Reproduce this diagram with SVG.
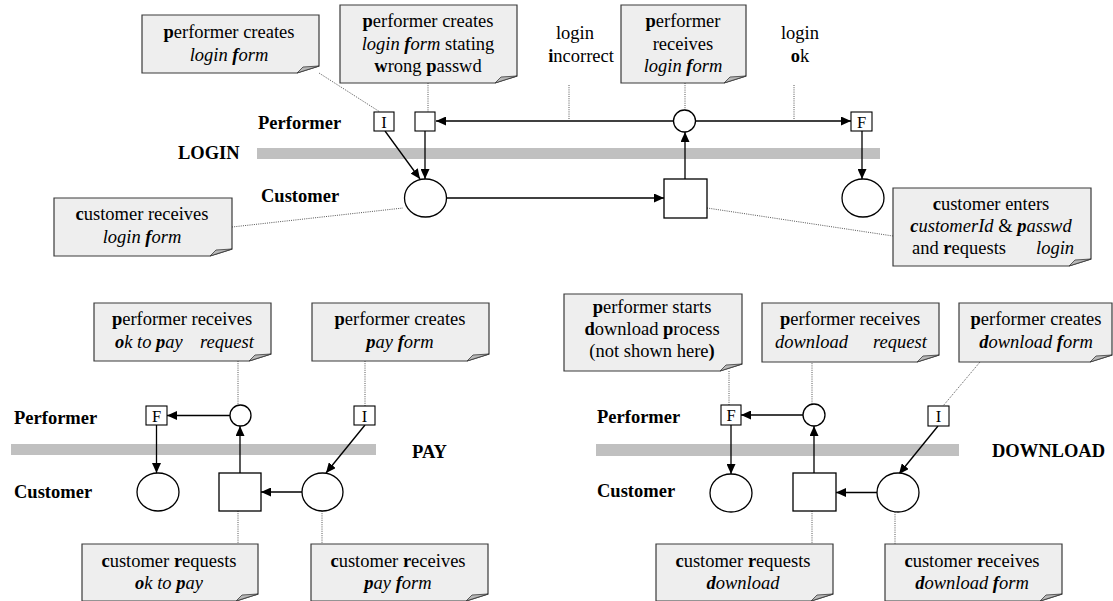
<svg xmlns="http://www.w3.org/2000/svg" width="1113" height="601" viewBox="0 0 1113 601" font-family="'Liberation Serif', 'Times New Roman', 'DejaVu Serif', serif">
<defs>
<marker id="ah" markerUnits="userSpaceOnUse" markerWidth="11" markerHeight="9" refX="10" refY="4.5" orient="auto">
<path d="M0,0 L10,4.5 L0,9 z" fill="#000"/>
</marker>
<style>
text{font-family:'Liberation Serif','Times New Roman','DejaVu Serif',serif;font-size:18.5px;fill:#000}
.t{text-anchor:middle}
.lbl{font-weight:bold;font-size:18.5px}
.b{font-weight:bold}
.i{font-style:italic}
.note{fill:#eeeeee;stroke:#3a3a3a;stroke-width:1.2}
.flap{fill:#b8b8b8;stroke:#3a3a3a;stroke-width:0.8}
.bar{fill:#c0c0c0}
.node{fill:#fff;stroke:#000;stroke-width:1.3}
.box{fill:#fff;stroke:#000;stroke-width:1.1}
.bl{font-size:16.5px;text-anchor:middle}
.arr{stroke:#000;stroke-width:1.3;fill:none;marker-end:url(#ah)}
.dot{stroke:#555;stroke-width:1;stroke-dasharray:1 1.2;fill:none}
</style>
</defs>
<rect width="1113" height="601" fill="#fff"/>

<!-- swimlane bars and labels -->
<g id="lanes">
<rect class="bar" x="257" y="148" width="623" height="11"/>
<rect class="bar" x="11" y="444" width="365" height="11"/>
<rect class="bar" x="596" y="444" width="363" height="12"/>
<text class="lbl" x="258" y="129">Performer</text>
<text class="lbl" x="178" y="159">LOGIN</text>
<text class="lbl" x="261" y="202">Customer</text>
<text class="lbl" x="14" y="424">Performer</text>
<text class="lbl" x="412" y="458">PAY</text>
<text class="lbl" x="14" y="498">Customer</text>
<text class="lbl" x="597" y="423">Performer</text>
<text class="lbl" x="992" y="457">DOWNLOAD</text>
<text class="lbl" x="597" y="497">Customer</text>
</g>

<!-- connectors -->
<g id="connectors">
<!-- LOGIN -->
<line class="arr" x1="673" y1="121" x2="436" y2="121"/>
<line class="arr" x1="696" y1="121" x2="851" y2="121"/>
<line class="arr" x1="385" y1="131" x2="420" y2="179"/>
<line class="arr" x1="425" y1="131" x2="425" y2="179"/>
<line class="arr" x1="447" y1="198" x2="664" y2="198"/>
<line class="arr" x1="685" y1="179" x2="685" y2="132"/>
<line class="arr" x1="862" y1="131" x2="862" y2="179"/>
<line class="dot" x1="319" y1="73" x2="380" y2="112"/>
<line class="dot" x1="428" y1="83" x2="428" y2="112"/>
<line class="dot" x1="569" y1="85" x2="569" y2="120"/>
<line class="dot" x1="685" y1="83" x2="685" y2="110"/>
<line class="dot" x1="794" y1="85" x2="794" y2="120"/>
<line class="dot" x1="232" y1="227" x2="403" y2="208"/>
<line class="dot" x1="707" y1="208" x2="893" y2="236"/>
<!-- PAY -->
<line class="arr" x1="230" y1="415.5" x2="167" y2="415.5"/>
<line class="arr" x1="156.5" y1="425" x2="156.5" y2="473"/>
<line class="arr" x1="240" y1="473" x2="240" y2="426"/>
<line class="arr" x1="302" y1="492" x2="261" y2="492"/>
<line class="arr" x1="365" y1="425" x2="326" y2="473"/>
<line class="dot" x1="238" y1="361" x2="238" y2="405"/>
<line class="dot" x1="365" y1="361" x2="365" y2="406"/>
<line class="dot" x1="238" y1="511" x2="238" y2="544"/>
<line class="dot" x1="322" y1="511" x2="322" y2="544"/>
<!-- DOWNLOAD -->
<line class="arr" x1="803" y1="415" x2="741" y2="415"/>
<line class="arr" x1="731" y1="425" x2="731" y2="474"/>
<line class="arr" x1="814" y1="473" x2="814" y2="426"/>
<line class="arr" x1="877" y1="492.5" x2="836" y2="492.5"/>
<line class="arr" x1="938" y1="426" x2="899" y2="474"/>
<line class="dot" x1="729" y1="371" x2="729" y2="405"/>
<line class="dot" x1="812" y1="361" x2="812" y2="404"/>
<line class="dot" x1="980" y1="362" x2="943" y2="406"/>
<line class="dot" x1="812" y1="511" x2="812" y2="544"/>
<line class="dot" x1="895" y1="512" x2="895" y2="544"/>
</g>

<!-- LOGIN nodes -->
<g id="login-I"><rect class="box" x="374" y="112" width="20" height="19"/><text class="bl" x="384" y="128">I</text></g>
<g id="login-wrong"><rect class="box" x="415" y="112" width="20" height="19"/></g>
<g id="login-recv"><circle class="node" cx="684.5" cy="121" r="11"/></g>
<g id="login-F"><rect class="box" x="851" y="112" width="21" height="19"/><text class="bl" x="861.5" y="128">F</text></g>
<g id="login-cust-recv"><ellipse class="node" cx="425.5" cy="198" rx="21" ry="19"/></g>
<g id="login-cust-enter"><rect class="node" x="664" y="179" width="43" height="39"/></g>
<g id="login-end"><ellipse class="node" cx="863" cy="198" rx="21" ry="19"/></g>

<g id="login-incorrect-label"><text class="t" x="575" y="39">login</text><text class="t" x="581" y="62"><tspan class="b">i</tspan>ncorrect</text></g>
<g id="login-ok-label"><text class="t" x="800" y="39">login</text><text class="t" x="800" y="62"><tspan class="b">o</tspan>k</text></g>

<g id="note-login-create">
<path class="note" d="M142,15 H319 V66 L297,73 H142 Z"/><path class="flap" d="M297,73 L303,67 L319,66 Z"/>
<text class="t" x="229" y="38"><tspan class="b">p</tspan>erformer creates</text>
<text class="t i" x="229" y="61">login <tspan class="b">f</tspan>orm</text>
</g>
<g id="note-login-wrong">
<path class="note" d="M340,5 H517 V76 L495,83 H340 Z"/><path class="flap" d="M495,83 L501,77 L517,76 Z"/>
<text class="t" x="428" y="27"><tspan class="b">p</tspan>erformer creates</text>
<text class="t" x="428" y="50"><tspan class="i">login <tspan class="b">f</tspan>orm</tspan> stating</text>
<text class="t" x="428" y="72"><tspan class="b">w</tspan>rong <tspan class="b">p</tspan>asswd</text>
</g>
<g id="note-login-recv">
<path class="note" d="M621,5 H746 V76 L724,83 H621 Z"/><path class="flap" d="M724,83 L730,77 L746,76 Z"/>
<text class="t" x="683" y="27"><tspan class="b">p</tspan>erformer</text>
<text class="t" x="683" y="50">receives</text>
<text class="t i" x="683" y="72">login <tspan class="b">f</tspan>orm</text>
</g>
<g id="note-login-cust-recv">
<path class="note" d="M54,198 H232 V249 L210,256 H54 Z"/><path class="flap" d="M210,256 L216,250 L232,249 Z"/>
<text class="t" x="142" y="220"><tspan class="b">c</tspan>ustomer receives</text>
<text class="t i" x="142" y="243">login <tspan class="b">f</tspan>orm</text>
</g>
<g id="note-login-cust-enter">
<path class="note" d="M893,188 H1091 V259 L1069,266 H893 Z"/><path class="flap" d="M1069,266 L1075,260 L1091,259 Z"/>
<text class="t" x="991" y="210"><tspan class="b">c</tspan>ustomer enters</text>
<text class="t" x="991" y="232"><tspan class="i"><tspan class="b">c</tspan>ustomerId</tspan> &amp; <tspan class="i"><tspan class="b">p</tspan>asswd</tspan></text>
<text x="912" y="254">and <tspan class="b">r</tspan>equests</text>
<text class="i" x="1036" y="254">login</text>
</g>

<!-- PAY nodes -->
<g id="pay-F"><rect class="box" x="146" y="406" width="21" height="19"/><text class="bl" x="156.5" y="422">F</text></g>
<g id="pay-recv"><circle class="node" cx="240.5" cy="415.5" r="10.5"/></g>
<g id="pay-I"><rect class="box" x="354" y="406" width="21" height="19"/><text class="bl" x="364.5" y="422">I</text></g>
<g id="pay-end"><ellipse class="node" cx="158" cy="492" rx="21" ry="19"/></g>
<g id="pay-request"><rect class="node" x="219" y="473" width="42" height="38"/></g>
<g id="pay-cust-recv"><ellipse class="node" cx="322.5" cy="492" rx="20.5" ry="19"/></g>

<g id="note-pay-recv">
<path class="note" d="M94,303 H271 V354 L249,361 H94 Z"/><path class="flap" d="M249,361 L255,355 L271,354 Z"/>
<text class="t" x="182" y="325"><tspan class="b">p</tspan>erformer receives</text>
<text class="i" x="115" y="348"><tspan class="b">o</tspan>k to <tspan class="b">p</tspan>ay</text>
<text class="i" x="200" y="348">request</text>
</g>
<g id="note-pay-create">
<path class="note" d="M312,303 H489 V354 L467,361 H312 Z"/><path class="flap" d="M467,361 L473,355 L489,354 Z"/>
<text class="t" x="400" y="325"><tspan class="b">p</tspan>erformer creates</text>
<text class="t i" x="400" y="348"><tspan class="b">p</tspan>ay <tspan class="b">f</tspan>orm</text>
</g>
<g id="note-pay-cust-req">
<path class="note" d="M82,544 H258 V594 L236,601 H82 Z"/><path class="flap" d="M236,601 L242,595 L258,594 Z"/>
<text class="t" x="169" y="567"><tspan class="b">c</tspan>ustomer <tspan class="b">r</tspan>equests</text>
<text class="t i" x="169" y="589"><tspan class="b">o</tspan>k to <tspan class="b">p</tspan>ay</text>
</g>
<g id="note-pay-cust-recv">
<path class="note" d="M311,544 H488 V594 L466,601 H311 Z"/><path class="flap" d="M466,601 L472,595 L488,594 Z"/>
<text class="t" x="398" y="567"><tspan class="b">c</tspan>ustomer <tspan class="b">r</tspan>eceives</text>
<text class="t i" x="398" y="589"><tspan class="b">p</tspan>ay <tspan class="b">f</tspan>orm</text>
</g>

<!-- DOWNLOAD nodes -->
<g id="dl-F"><rect class="box" x="721" y="405" width="20" height="20"/><text class="bl" x="731" y="421">F</text></g>
<g id="dl-recv"><circle class="node" cx="814" cy="415" r="11"/></g>
<g id="dl-I"><rect class="box" x="928" y="406" width="21" height="20"/><text class="bl" x="938.5" y="422">I</text></g>
<g id="dl-end"><ellipse class="node" cx="731" cy="493" rx="21" ry="19"/></g>
<g id="dl-request"><rect class="node" x="793" y="473" width="43" height="38"/></g>
<g id="dl-cust-recv"><ellipse class="node" cx="898" cy="492.5" rx="21" ry="19.5"/></g>

<g id="note-dl-start">
<path class="note" d="M564,294 H742 V364 L720,371 H564 Z"/><path class="flap" d="M720,371 L726,365 L742,364 Z"/>
<text class="t" x="652" y="313"><tspan class="b">p</tspan>erformer starts</text>
<text class="t" x="652" y="335"><tspan class="b">d</tspan>ownload <tspan class="b">p</tspan>rocess</text>
<text class="t" x="652" y="357">(not shown here<tspan class="b">)</tspan></text>
</g>
<g id="note-dl-recv">
<path class="note" d="M762,303 H939 V355 L917,362 H762 Z"/><path class="flap" d="M917,362 L923,356 L939,355 Z"/>
<text class="t" x="850" y="325"><tspan class="b">p</tspan>erformer receives</text>
<text class="i" x="775" y="348">download</text>
<text class="i" x="873" y="348">request</text>
</g>
<g id="note-dl-create">
<path class="note" d="M959,303 H1112 V355 L1090,362 H959 Z"/><path class="flap" d="M1090,362 L1096,356 L1112,355 Z"/>
<text class="t" x="1036" y="325"><tspan class="b">p</tspan>erformer creates</text>
<text class="t i" x="1036" y="348"><tspan class="b">d</tspan>ownload <tspan class="b">f</tspan>orm</text>
</g>
<g id="note-dl-cust-req">
<path class="note" d="M656,544 H833 V594 L811,601 H656 Z"/><path class="flap" d="M811,601 L817,595 L833,594 Z"/>
<text class="t" x="743" y="567"><tspan class="b">c</tspan>ustomer <tspan class="b">r</tspan>equests</text>
<text class="t i" x="743" y="589"><tspan class="b">d</tspan>ownload</text>
</g>
<g id="note-dl-cust-recv">
<path class="note" d="M885,544 H1062 V594 L1040,601 H885 Z"/><path class="flap" d="M1040,601 L1046,595 L1062,594 Z"/>
<text class="t" x="972" y="567"><tspan class="b">c</tspan>ustomer <tspan class="b">r</tspan>eceives</text>
<text class="t i" x="972" y="589"><tspan class="b">d</tspan>ownload <tspan class="b">f</tspan>orm</text>
</g>
</svg>
